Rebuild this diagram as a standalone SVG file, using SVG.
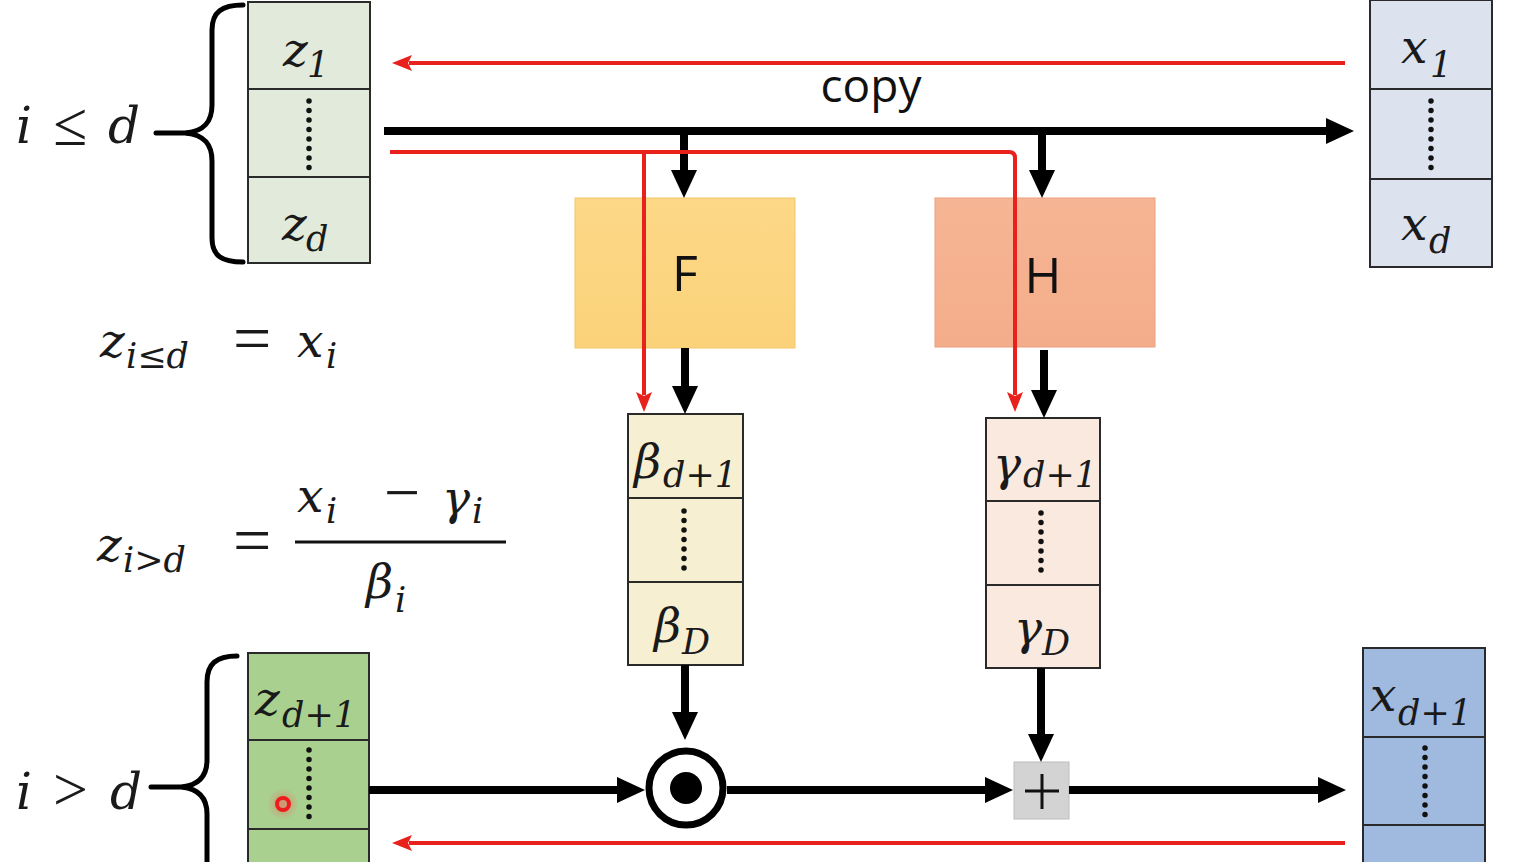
<svg xmlns="http://www.w3.org/2000/svg" width="1534" height="862" viewBox="0 0 1534 862">
<defs>
<style>
.cell{stroke:#2a2a2a;stroke-width:2}
.m{font-family:"DejaVu Serif","Liberation Serif",serif;font-style:italic;fill:#1a1a1a}
.big{font-size:47px}
.sub{font-size:35px}
.op{font-family:"Liberation Serif","DejaVu Serif",serif;font-style:normal;fill:#1a1a1a}
.lbl{font-family:"Open Sans","Liberation Sans",sans-serif;fill:#111}
.dots{stroke:#111;stroke-width:5.5;stroke-linecap:round;stroke-dasharray:0 9.5;fill:none}
.blk{stroke:#000;stroke-width:8;fill:none}
.red{stroke:#e8211c;stroke-width:4;fill:none}
.brace{stroke:#000;stroke-width:5;fill:none;stroke-linecap:round}
</style>
<marker id="ahb" viewBox="0 0 28 26" refX="4" refY="13" markerWidth="28" markerHeight="26" markerUnits="userSpaceOnUse" orient="auto"><path d="M0,0 L28,13 L0,26 z" fill="#000"/></marker>
<marker id="ahr" viewBox="0 0 20 16" refX="3" refY="8" markerWidth="20" markerHeight="16" markerUnits="userSpaceOnUse" orient="auto"><path d="M0,0 L20,8 L0,16 L4,8 z" fill="#e8211c"/></marker>
<linearGradient id="gF" x1="0" y1="0" x2="0" y2="1"><stop offset="0" stop-color="#fdd887"/><stop offset="1" stop-color="#fbd27a"/></linearGradient>
<linearGradient id="gH" x1="0" y1="0" x2="0" y2="1"><stop offset="0" stop-color="#f6b594"/><stop offset="1" stop-color="#f4ad8a"/></linearGradient>
<radialGradient id="glow"><stop offset="0" stop-color="#ff5050" stop-opacity="0.5"/><stop offset="1" stop-color="#ff5050" stop-opacity="0"/></radialGradient>
</defs>
<rect width="1534" height="862" fill="#ffffff"/>

<!-- top-left z vector -->
<g id="z-top">
<rect class="cell" x="248" y="2" width="122" height="87" fill="#e2eadb"/>
<rect class="cell" x="248" y="89" width="122" height="88" fill="#e2eadb"/>
<rect class="cell" x="248" y="177" width="122" height="86" fill="#e2eadb"/>
<text class="m big" x="283" y="66">z<tspan class="sub" x="307" y="77">1</tspan></text>
<line class="dots" x1="309" y1="101" x2="309" y2="169"/>
<text class="m big" x="282" y="240">z<tspan class="sub" x="306" y="251">d</tspan></text>
</g>
<g id="brace-top">
<path class="brace" d="M243,5 C222,5 212,12 212,30 L212,105 C212,122 204,131 186,133 C204,135 212,144 212,161 L212,238 C212,256 222,262 243,262"/>
<line class="brace" x1="156" y1="133" x2="190" y2="133"/>
<text class="m" font-size="50"><tspan x="16" y="143">i</tspan><tspan class="op" font-size="62" x="53" y="145">≤</tspan><tspan x="108" y="143">d</tspan></text>
</g>

<!-- top-right x vector -->
<g id="x-top">
<rect class="cell" x="1370" y="0" width="122" height="89" fill="#dce3ef"/>
<rect class="cell" x="1370" y="89" width="122" height="90" fill="#dce3ef"/>
<rect class="cell" x="1370" y="179" width="122" height="88" fill="#dce3ef"/>
<text class="m big" x="1401" y="63">x<tspan class="sub" x="1430" y="77">1</tspan></text>
<line class="dots" x1="1431" y1="101" x2="1431" y2="171"/>
<text class="m big" x="1401" y="240">x<tspan class="sub" x="1429" y="253">d</tspan></text>
</g>

<text class="lbl" x="871" y="102" font-size="46" text-anchor="middle">copy</text>

<!-- F and H -->
<g id="F">
<rect x="575" y="198" width="220" height="150" fill="url(#gF)" stroke="#f2c56a" stroke-width="1"/>
<text class="lbl" x="685" y="291" font-size="50" text-anchor="middle">F</text>
</g>
<g id="H">
<rect x="935" y="198" width="220" height="149" fill="url(#gH)" stroke="#e9a080" stroke-width="1"/>
<text class="lbl" x="1043" y="293" font-size="50" text-anchor="middle">H</text>
</g>

<!-- beta vector -->
<g id="beta">
<rect class="cell" x="628" y="414" width="115" height="84" fill="#f7efd1"/>
<rect class="cell" x="628" y="498" width="115" height="84" fill="#f7efd1"/>
<rect class="cell" x="628" y="582" width="115" height="83" fill="#f7efd1"/>
<text class="m big" x="634" y="478">β<tspan class="sub" x="663" y="487">d+1</tspan></text>
<line class="dots" x1="684" y1="511" x2="684" y2="576"/>
<text class="m big" x="654" y="642">β<tspan class="sub" x="682" y="654">D</tspan></text>
</g>

<!-- gamma vector -->
<g id="gamma">
<rect class="cell" x="986" y="418" width="114" height="83" fill="#f9e9df"/>
<rect class="cell" x="986" y="501" width="114" height="84" fill="#f9e9df"/>
<rect class="cell" x="986" y="585" width="114" height="83" fill="#f9e9df"/>
<text class="m big" x="993" y="480">γ<tspan class="sub" x="1023" y="487">d+1</tspan></text>
<line class="dots" x1="1041" y1="513" x2="1041" y2="578"/>
<text class="m big" x="1014" y="644">γ<tspan class="sub" x="1042" y="655">D</tspan></text>
</g>

<!-- odot -->
<g id="odot">
<circle cx="686" cy="788" r="37" fill="#fff" stroke="#000" stroke-width="7"/>
<circle cx="686" cy="788" r="16" fill="#000"/>
</g>

<!-- plus -->
<g id="plus">
<rect x="1014" y="762" width="55" height="57" fill="#d3d3d3" stroke="#bdbdbd" stroke-width="1"/>
<line x1="1025" y1="791" x2="1059" y2="791" stroke="#111" stroke-width="3"/>
<line x1="1042" y1="774" x2="1042" y2="809" stroke="#111" stroke-width="3"/>
</g>

<!-- bottom-left z vector -->
<g id="z-bottom">
<rect class="cell" x="248" y="653" width="121" height="87" fill="#a9d08f"/>
<rect class="cell" x="248" y="740" width="121" height="89" fill="#a9d08f"/>
<rect class="cell" x="248" y="829" width="121" height="40" fill="#a9d08f"/>
<text class="m big" x="255" y="715">z<tspan class="sub" x="282" y="727">d+1</tspan></text>
<line class="dots" x1="309" y1="750" x2="309" y2="819"/>
<circle cx="283" cy="804" r="16" fill="url(#glow)"/>
<circle cx="283" cy="804" r="6" fill="none" stroke="#ee1c1c" stroke-width="4"/>
</g>
<g id="brace-bottom">
<path class="brace" d="M237,656 C216,656 207,664 207,682 L207,760 C207,776 199,785 182,787 C199,789 207,798 207,814 L207,870"/>
<line class="brace" x1="151" y1="787" x2="186" y2="787"/>
<text class="m" font-size="50"><tspan x="16" y="809">i</tspan><tspan class="op" font-size="62" x="53" y="810">&gt;</tspan><tspan x="110" y="809">d</tspan></text>
</g>

<!-- bottom-right x vector -->
<g id="x-bottom">
<rect class="cell" x="1363" y="648" width="122" height="89" fill="#9fb9df"/>
<rect class="cell" x="1363" y="737" width="122" height="88" fill="#9fb9df"/>
<rect class="cell" x="1363" y="825" width="122" height="45" fill="#9fb9df"/>
<text class="m big" x="1370" y="711">x<tspan class="sub" x="1398" y="725">d+1</tspan></text>
<line class="dots" x1="1425" y1="748" x2="1425" y2="815"/>
</g>

<!-- formulas -->
<g id="formula1">
<text class="m big" x="100" y="357">z<tspan class="sub" x="126" y="368">i≤d</tspan></text>
<text class="op" x="233" y="361" font-size="68">=</text>
<text class="m big" x="297" y="357">x<tspan class="sub" x="326" y="368">i</tspan></text>
</g>
<g id="formula2">
<text class="m big" x="97" y="561">z<tspan class="sub" x="123" y="572">i&gt;d</tspan></text>
<text class="op" x="233" y="563" font-size="68">=</text>
<text class="m big" x="297" y="512">x<tspan class="sub" x="326" y="523">i</tspan></text>
<text class="op" x="384" y="514" font-size="64">−</text>
<text class="m big" x="442" y="514">γ<tspan class="sub" x="472" y="523">i</tspan></text>
<line x1="295" y1="542" x2="506" y2="542" stroke="#111" stroke-width="3"/>
<text class="m big" x="366" y="598">β<tspan class="sub" x="395" y="612">i</tspan></text>
</g>

<!-- connectors (drawn on top) -->
<g id="connectors">
<line class="red" x1="1345" y1="63" x2="409" y2="63" marker-end="url(#ahr)"/>
<line class="blk" x1="384" y1="131" x2="1330" y2="131" marker-end="url(#ahb)"/>
<line class="blk" x1="684" y1="131" x2="684" y2="174" marker-end="url(#ahb)"/>
<line class="blk" x1="1042" y1="131" x2="1042" y2="174" marker-end="url(#ahb)"/>
<path class="red" d="M390,152 L1009,152 Q1015,152 1015,158 L1015,395" marker-end="url(#ahr)"/>
<line class="red" x1="644" y1="152" x2="644" y2="395" marker-end="url(#ahr)"/>
<line class="blk" x1="685" y1="348" x2="685" y2="390" marker-end="url(#ahb)"/>
<line class="blk" x1="1044" y1="350" x2="1044" y2="394" marker-end="url(#ahb)"/>
<line class="blk" x1="685" y1="665" x2="685" y2="716" marker-end="url(#ahb)"/>
<line class="blk" x1="1041" y1="668" x2="1041" y2="738" marker-end="url(#ahb)"/>
<line class="blk" x1="369" y1="790" x2="621" y2="790" marker-end="url(#ahb)"/>
<line class="blk" x1="727" y1="790" x2="989" y2="790" marker-end="url(#ahb)"/>
<line class="blk" x1="1069" y1="790" x2="1322" y2="790" marker-end="url(#ahb)"/>
<line class="red" x1="1345" y1="843" x2="409" y2="843" marker-end="url(#ahr)"/>
</g>
</svg>
